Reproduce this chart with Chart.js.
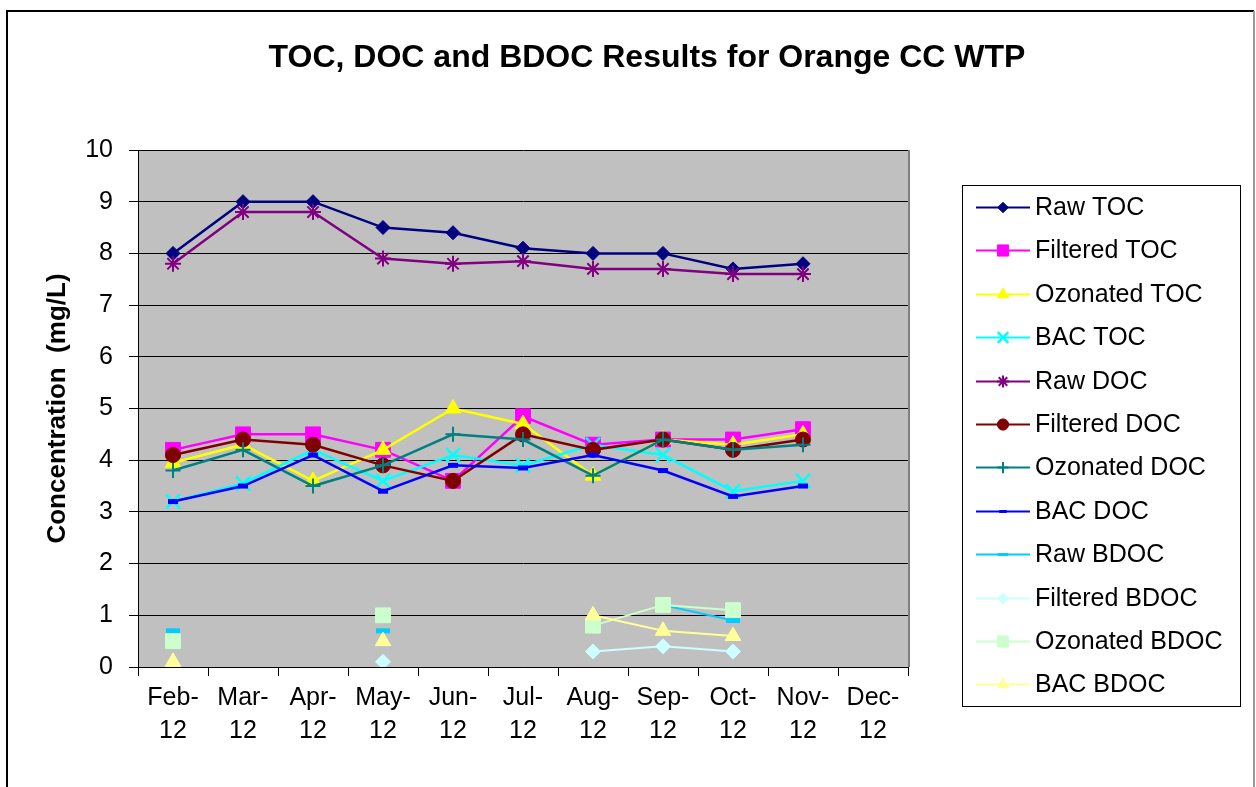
<!DOCTYPE html>
<html>
<head>
<meta charset="utf-8">
<title>TOC, DOC and BDOC Results for Orange CC WTP</title>
<script src="https://cdn.jsdelivr.net/npm/chart.js@4.4.1/dist/chart.umd.min.js"></script>
<style>
  html, body { margin: 0; padding: 0; background: #fff; }
  #wrap { position: absolute; left: 0; top: 0; width: 1256px; height: 787px; }
</style>
</head>
<body>
<div id="wrap"><canvas id="resultsChart" width="1256" height="787"></canvas></div>
<script>
// Sampling months (x categories)
const months = ["Feb-12", "Mar-12", "Apr-12", "May-12", "Jun-12", "Jul-12",
  "Aug-12", "Sep-12", "Oct-12", "Nov-12", "Dec-12"];

// Concentrations in mg/L, null = no sample
const rawTOC       = [8.0, 9.0, 9.0, 8.5, 8.4, 8.1, 8.0, 8.0, 7.7, 7.8, null];
const filteredTOC  = [4.2, 4.5, 4.5, 4.2, 3.6, 4.85, 4.3, 4.4, 4.4, 4.6, null];
const ozonatedTOC  = [3.95, 4.3, 3.6, 4.2, 5.0, 4.7, 3.7, 4.4, 4.3, 4.5, null];
const bacTOC       = [3.2, 3.55, 4.2, 3.6, 4.1, 3.9, 4.3, 4.1, 3.4, 3.6, null];
const rawDOC       = [7.8, 8.8, 8.8, 7.9, 7.8, 7.85, 7.7, 7.7, 7.6, 7.6, null];
const filteredDOC  = [4.1, 4.4, 4.3, 3.9, 3.6, 4.5, 4.2, 4.4, 4.2, 4.4, null];
const ozonatedDOC  = [3.8, 4.2, 3.5, 3.9, 4.5, 4.4, 3.7, 4.4, 4.2, 4.3, null];
const bacDOC       = [3.2, 3.5, 4.1, 3.4, 3.9, 3.85, 4.1, 3.8, 3.3, 3.5, null];
const rawBDOC      = [0.7, null, null, 0.7, null, null, null, 1.2, 0.9, null, null];
const filteredBDOC = [0.0, null, null, 0.1, null, null, 0.3, 0.4, 0.3, null, null];
const ozonatedBDOC = [0.5, null, null, 1.0, null, null, 0.8, 1.2, 1.1, null, null];
const bacBDOC      = [0.1, null, null, 0.5, null, null, 1.0, 0.7, 0.6, null, null];

const yTicks = [0, 1, 2, 3, 4, 5, 6, 7, 8, 9, 10];

const chartTitle = "TOC, DOC and BDOC Results for Orange CC WTP";
const FONT = "'Liberation Sans', Arial, sans-serif";

// Build one line series in the Excel look
function series(label, data, color, style, radius, markerWidth, lineWidth) {
  return {
    label: label,
    data: data,
    borderColor: color,
    backgroundColor: color,
    borderWidth: lineWidth || 2.5,
    pointStyle: style,
    pointRadius: radius,
    pointHoverRadius: radius,
    pointBackgroundColor: color,
    pointBorderColor: color,
    pointBorderWidth: markerWidth,
    tension: 0,
    spanGaps: false,
  };
}

const datasets = [
  series("Raw TOC", rawTOC, "#000080", "rectRot", 7, 1),
  series("Filtered TOC", filteredTOC, "#FF00FF", "rect", 10.5, 1),
  series("Ozonated TOC", ozonatedTOC, "#FFFF00", "triangle", 9, 1),
  series("BAC TOC", bacTOC, "#00FFFF", "crossRot", 10, 2.5),
  series("Raw DOC", rawDOC, "#800080", "star", 8, 2),
  series("Filtered DOC", filteredDOC, "#800000", "circle", 7.5, 1),
  series("Ozonated DOC", ozonatedDOC, "#008080", "cross", 7.5, 2),
  series("BAC DOC", bacDOC, "#0000FF", "line", 5, 5),
  series("Raw BDOC", rawBDOC, "#00CCFF", "line", 7, 5, 2),
  series("Filtered BDOC", filteredBDOC, "#CCFFFF", "rectRot", 7.5, 1, 2),
  series("Ozonated BDOC", ozonatedBDOC, "#CCFFCC", "rect", 10.5, 1, 2),
  series("BAC BDOC", bacBDOC, "#FFFF99", "triangle", 9, 1, 2),
];
// later series sit on top, as in the spreadsheet
datasets.forEach((ds, i) => { ds.order = datasets.length - i; });

// Grey plot area, outer frame, title and right edge of plot
const plotBackground = {
  id: "plotBackground",
  beforeDraw(chart) {
    const { ctx, chartArea: a } = chart;
    ctx.save();
    ctx.fillStyle = "#fff";
    ctx.fillRect(0, 0, chart.width, chart.height);
    ctx.fillStyle = "#C0C0C0";
    ctx.fillRect(a.left, a.top, a.right - a.left, a.bottom - a.top);
    ctx.restore();
  },
  beforeDatasetsDraw(chart) {
    const { ctx, chartArea: a } = chart;
    ctx.save();
    ctx.strokeStyle = "#808080";
    ctx.lineWidth = 2;
    ctx.beginPath();
    ctx.moveTo(a.right + 1, a.top);
    ctx.lineTo(a.right + 1, a.bottom);
    ctx.stroke();
    ctx.restore();
  },
  afterDraw(chart) {
    const ctx = chart.ctx;
    ctx.save();
    ctx.lineWidth = 2;
    ctx.strokeStyle = "#000";
    ctx.beginPath();
    ctx.moveTo(7, 800);
    ctx.lineTo(7, 11);
    ctx.lineTo(1254, 11);
    ctx.stroke();
    ctx.strokeStyle = "#999";
    ctx.beginPath();
    ctx.moveTo(1254, 11);
    ctx.lineTo(1254, 800);
    ctx.stroke();
    // title is centred on the whole chart, not just the plot
    ctx.fillStyle = "#000";
    ctx.font = "bold 32px " + FONT;
    ctx.textAlign = "center";
    ctx.textBaseline = "middle";
    ctx.fillText(chartTitle, 647, 58);
    ctx.restore();
  },
};

// Boxed legend on the right with line + marker samples
const boxLegend = {
  id: "boxLegend",
  afterDraw(chart) {
    const ctx = chart.ctx;
    const box = { x: 962, y: 185, w: 278, h: 521 };
    const firstRow = 207;
    const rowStep = 43.4;
    ctx.save();
    ctx.strokeStyle = "#000";
    ctx.lineWidth = 1;
    ctx.strokeRect(box.x + 0.5, box.y + 0.5, box.w, box.h);
    ctx.font = "25px " + FONT;
    ctx.textBaseline = "middle";
    ctx.textAlign = "left";
    chart.data.datasets.forEach((ds, i) => {
      const y = Math.round(firstRow + i * rowStep) + 0.5;
      ctx.strokeStyle = ds.borderColor;
      ctx.lineWidth = 2;
      ctx.beginPath();
      ctx.moveTo(976, y);
      ctx.lineTo(1030, y);
      ctx.stroke();
      ctx.fillStyle = ds.pointBackgroundColor;
      ctx.strokeStyle = ds.pointBorderColor;
      ctx.lineWidth = Math.min(ds.pointBorderWidth, 3);
      Chart.helpers.drawPoint(ctx, {
        pointStyle: ds.pointStyle,
        radius: ds.pointRadius * 0.75,
        rotation: 0,
        borderWidth: ds.pointBorderWidth,
      }, 1003, y);
      ctx.fillStyle = "#000";
      ctx.fillText(ds.label, 1035, y + 1);
    });
    ctx.restore();
  },
};

new Chart(document.getElementById("resultsChart").getContext("2d"), {
  type: "line",
  data: { labels: months, datasets: datasets },
  options: {
    responsive: false,
    animation: false,
    layout: { padding: { left: 0, right: 348, top: 150, bottom: 0 } },
    plugins: {
      legend: { display: false },
      tooltip: { enabled: false },
      title: { display: false },
    },
    scales: {
      x: {
        offset: true,
        grid: {
          offset: true,
          drawOnChartArea: false,
          drawTicks: true,
          tickLength: 9,
          color: "#000",
        },
        border: { display: true, color: "#000", width: 1 },
        ticks: {
          color: "#000",
          font: { family: FONT, size: 25, lineHeight: 1.3 },
          padding: 6,
          maxRotation: 0,
          autoSkip: false,
          callback: function (value) {
            const label = this.getLabelForValue(value);
            const parts = label.split("-");
            return [parts[0] + "-", parts[1]];
          },
        },
        afterFit(scale) { scale.height = 120; },
      },
      y: {
        min: yTicks[0],
        max: yTicks[yTicks.length - 1],
        afterBuildTicks(scale) { scale.ticks = yTicks.map((v) => ({ value: v })); },
        grid: { color: "#000", lineWidth: 1, tickLength: 9 },
        border: { display: true, color: "#000", width: 1 },
        ticks: {
          color: "#000",
          font: { family: FONT, size: 25 },
          padding: 16,
        },
        title: {
          display: true,
          text: "Concentration  (mg/L)",
          color: "#000",
          font: { family: FONT, size: 26, weight: "bold" },
          padding: { top: 42, bottom: 0 },
        },
        afterFit(scale) { scale.width = 138; },
      },
    },
  },
  plugins: [plotBackground, boxLegend],
});
</script>
</body>
</html>
